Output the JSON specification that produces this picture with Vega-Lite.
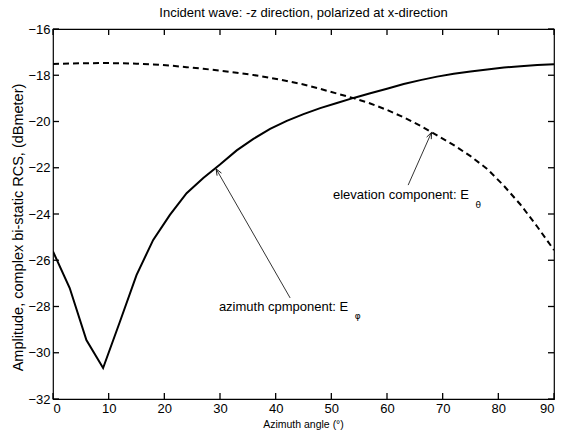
{
  "$schema": "https://vega.github.io/schema/vega-lite/v6.json",
  "width": 501,
  "height": 370,
  "autosize": "none",
  "padding": {"left": 53, "top": 29, "right": 16, "bottom": 35},
  "background": "white",
  "title": {"text": "Incident wave: -z direction, polarized at x-direction", "fontSize": 13, "fontWeight": "normal", "font": "Liberation Sans", "color": "black", "anchor": "middle", "offset": 3},
  "config": {
    "view": {"stroke": "black", "strokeWidth": 1.2},
    "font": "Liberation Sans",
    "axis": {"labelFont": "Liberation Sans", "titleFont": "Liberation Sans", "labelColor": "black", "titleColor": "black", "ticks": false, "domain": false, "grid": false, "labelFontSize": 13, "titleFontWeight": "normal"}
  },
  "datasets": {
    "curves": [
      {"angle": 0, "series": "azimuth", "value": -25.62},
      {"angle": 3, "series": "azimuth", "value": -27.2},
      {"angle": 6, "series": "azimuth", "value": -29.45},
      {"angle": 9, "series": "azimuth", "value": -30.66},
      {"angle": 12, "series": "azimuth", "value": -28.67},
      {"angle": 15, "series": "azimuth", "value": -26.64},
      {"angle": 18, "series": "azimuth", "value": -25.12},
      {"angle": 21, "series": "azimuth", "value": -24.04},
      {"angle": 24, "series": "azimuth", "value": -23.1},
      {"angle": 27, "series": "azimuth", "value": -22.44},
      {"angle": 30, "series": "azimuth", "value": -21.86},
      {"angle": 33, "series": "azimuth", "value": -21.25},
      {"angle": 36, "series": "azimuth", "value": -20.75},
      {"angle": 39, "series": "azimuth", "value": -20.32},
      {"angle": 42, "series": "azimuth", "value": -19.97},
      {"angle": 45, "series": "azimuth", "value": -19.68},
      {"angle": 48, "series": "azimuth", "value": -19.42},
      {"angle": 51, "series": "azimuth", "value": -19.2},
      {"angle": 54, "series": "azimuth", "value": -18.98},
      {"angle": 57, "series": "azimuth", "value": -18.78},
      {"angle": 60, "series": "azimuth", "value": -18.58},
      {"angle": 63, "series": "azimuth", "value": -18.38},
      {"angle": 66, "series": "azimuth", "value": -18.21},
      {"angle": 69, "series": "azimuth", "value": -18.06},
      {"angle": 72, "series": "azimuth", "value": -17.94},
      {"angle": 75, "series": "azimuth", "value": -17.84},
      {"angle": 78, "series": "azimuth", "value": -17.75},
      {"angle": 81, "series": "azimuth", "value": -17.67},
      {"angle": 84, "series": "azimuth", "value": -17.61},
      {"angle": 87, "series": "azimuth", "value": -17.56},
      {"angle": 90, "series": "azimuth", "value": -17.52},
      {"angle": 0, "series": "elevation", "value": -17.51},
      {"angle": 3, "series": "elevation", "value": -17.49},
      {"angle": 6, "series": "elevation", "value": -17.48},
      {"angle": 9, "series": "elevation", "value": -17.47},
      {"angle": 12, "series": "elevation", "value": -17.48},
      {"angle": 15, "series": "elevation", "value": -17.5},
      {"angle": 18, "series": "elevation", "value": -17.53},
      {"angle": 21, "series": "elevation", "value": -17.58},
      {"angle": 24, "series": "elevation", "value": -17.65},
      {"angle": 27, "series": "elevation", "value": -17.72},
      {"angle": 30, "series": "elevation", "value": -17.8},
      {"angle": 33, "series": "elevation", "value": -17.89},
      {"angle": 36, "series": "elevation", "value": -17.99},
      {"angle": 39, "series": "elevation", "value": -18.11},
      {"angle": 42, "series": "elevation", "value": -18.25},
      {"angle": 45, "series": "elevation", "value": -18.4},
      {"angle": 48, "series": "elevation", "value": -18.59},
      {"angle": 51, "series": "elevation", "value": -18.79},
      {"angle": 54, "series": "elevation", "value": -18.99},
      {"angle": 57, "series": "elevation", "value": -19.22},
      {"angle": 60, "series": "elevation", "value": -19.5},
      {"angle": 63, "series": "elevation", "value": -19.82},
      {"angle": 66, "series": "elevation", "value": -20.18},
      {"angle": 69, "series": "elevation", "value": -20.6},
      {"angle": 72, "series": "elevation", "value": -21.02},
      {"angle": 75, "series": "elevation", "value": -21.5},
      {"angle": 78, "series": "elevation", "value": -22.05},
      {"angle": 81, "series": "elevation", "value": -22.78},
      {"angle": 84, "series": "elevation", "value": -23.6},
      {"angle": 87, "series": "elevation", "value": -24.55},
      {"angle": 90, "series": "elevation", "value": -25.56}
    ],
    "xticks": [{"v": 0}, {"v": 10}, {"v": 20}, {"v": 30}, {"v": 40}, {"v": 50}, {"v": 60}, {"v": 70}, {"v": 80}, {"v": 90}],
    "yticks": [{"v": -32}, {"v": -30}, {"v": -28}, {"v": -26}, {"v": -24}, {"v": -22}, {"v": -20}, {"v": -18}, {"v": -16}],
    "arrows": [
      {"name": "azimuth", "x": 42.6, "y": -27.63, "x2": 29.3, "y2": -22.05},
      {"name": "elevation", "x": 63.8, "y": -22.75, "x2": 68.0, "y2": -20.47}
    ],
    "labels": [
      {"name": "azimuth", "x": 29.8, "y": -28.02, "text": "azimuth cpmponent: E"},
      {"name": "elevation", "x": 50.3, "y": -23.18, "text": "elevation component: E"}
    ],
    "subs": [
      {"name": "azimuth", "x": 54.2, "y": -28.41, "text": "φ"},
      {"name": "elevation", "x": 75.9, "y": -23.6, "text": "θ"}
    ]
  },
  "resolve": {"axis": {"x": "independent", "y": "independent"}},
  "layer": [
    {
      "data": {"name": "curves"},
      "transform": [{"filter": "datum.series === 'azimuth'"}],
      "mark": {"type": "line", "color": "black", "strokeWidth": 2, "clip": true},
      "encoding": {
        "x": {"field": "angle", "type": "quantitative", "scale": {"domain": [0, 90], "nice": false},
          "axis": {"orient": "bottom", "values": [0, 10, 20, 30, 40, 50, 60, 70, 80, 90], "labelPadding": 3, "title": "Azimuth angle (°)", "titleFontSize": 10.5, "titleX": 250, "titleY": 25, "titleBaseline": "middle", "titleAnchor": null}},
        "y": {"field": "value", "type": "quantitative", "scale": {"domain": [-32, -16], "nice": false},
          "axis": {"orient": "left", "values": [-32, -30, -28, -26, -24, -22, -20, -18, -16], "labelPadding": 3, "title": "Amplitude, complex bi-static RCS, (dBmeter)", "titleFontSize": 14.5, "titleX": -35, "titleY": 198, "titleBaseline": "middle", "titleAngle": -90}}
      }
    },
    {
      "data": {"name": "curves"},
      "transform": [{"filter": "datum.series === 'elevation'"}],
      "mark": {"type": "line", "color": "black", "strokeWidth": 2, "strokeDash": [6, 4], "clip": true},
      "encoding": {
        "x": {"field": "angle", "type": "quantitative", "scale": {"domain": [0, 90], "nice": false}, "axis": null},
        "y": {"field": "value", "type": "quantitative", "scale": {"domain": [-32, -16], "nice": false}, "axis": null}
      }
    },
    {
      "data": {"name": "xticks"},
      "mark": {"type": "rule", "color": "black", "strokeWidth": 1.3},
      "encoding": {
        "x": {"field": "v", "type": "quantitative", "axis": null},
        "y": {"datum": -32, "type": "quantitative", "axis": null},
        "y2": {"datum": -31.74}
      }
    },
    {
      "data": {"name": "xticks"},
      "mark": {"type": "rule", "color": "black", "strokeWidth": 1.3},
      "encoding": {
        "x": {"field": "v", "type": "quantitative", "axis": null},
        "y": {"datum": -16, "type": "quantitative", "axis": null},
        "y2": {"datum": -16.26}
      }
    },
    {
      "data": {"name": "yticks"},
      "mark": {"type": "rule", "color": "black", "strokeWidth": 1.3},
      "encoding": {
        "y": {"field": "v", "type": "quantitative", "axis": null},
        "x": {"datum": 0, "type": "quantitative", "axis": null},
        "x2": {"datum": 1.08}
      }
    },
    {
      "data": {"name": "yticks"},
      "mark": {"type": "rule", "color": "black", "strokeWidth": 1.3},
      "encoding": {
        "y": {"field": "v", "type": "quantitative", "axis": null},
        "x": {"datum": 90, "type": "quantitative", "axis": null},
        "x2": {"datum": 88.92}
      }
    },
    {
      "data": {"name": "arrows"},
      "mark": {"type": "rule", "color": "black", "strokeWidth": 0.8},
      "encoding": {
        "x": {"field": "x", "type": "quantitative", "axis": null},
        "y": {"field": "y", "type": "quantitative", "axis": null},
        "x2": {"field": "x2"},
        "y2": {"field": "y2"}
      }
    },
    {
      "data": {"name": "arrows"},
      "transform": [{"filter": "datum.name === 'azimuth'"}],
      "mark": {"type": "point", "shape": "M -0.4 1 L 0 0 L 0.4 1", "filled": false, "color": "black", "strokeWidth": 0.8, "size": 160, "angle": 330, "opacity": 1},
      "encoding": {
        "x": {"field": "x2", "type": "quantitative", "axis": null},
        "y": {"field": "y2", "type": "quantitative", "axis": null}
      }
    },
    {
      "data": {"name": "arrows"},
      "transform": [{"filter": "datum.name === 'elevation'"}],
      "mark": {"type": "point", "shape": "M -0.4 1 L 0 0 L 0.4 1", "filled": false, "color": "black", "strokeWidth": 0.8, "size": 160, "angle": 24, "opacity": 1},
      "encoding": {
        "x": {"field": "x2", "type": "quantitative", "axis": null},
        "y": {"field": "y2", "type": "quantitative", "axis": null}
      }
    },
    {
      "data": {"name": "labels"},
      "mark": {"type": "text", "align": "left", "baseline": "middle", "fontSize": 13, "font": "Liberation Sans", "color": "black"},
      "encoding": {
        "x": {"field": "x", "type": "quantitative", "axis": null},
        "y": {"field": "y", "type": "quantitative", "axis": null},
        "text": {"field": "text"}
      }
    },
    {
      "data": {"name": "subs"},
      "mark": {"type": "text", "align": "left", "baseline": "middle", "fontSize": 9, "font": "DejaVu Sans", "color": "black"},
      "encoding": {
        "x": {"field": "x", "type": "quantitative", "axis": null},
        "y": {"field": "y", "type": "quantitative", "axis": null},
        "text": {"field": "text"}
      }
    }
  ]
}
